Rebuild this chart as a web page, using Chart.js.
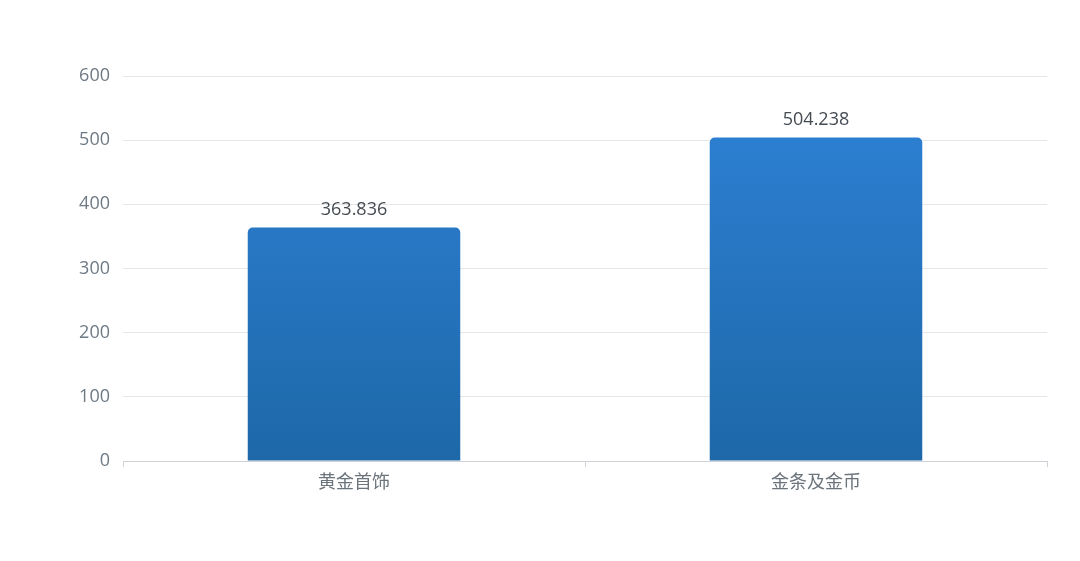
<!DOCTYPE html>
<html>
<head>
<meta charset="utf-8">
<script src="https://cdn.jsdelivr.net/npm/chart.js@4"></script>
<style>
  html, body { margin: 0; padding: 0; background: #fff; }
  #wrap { width: 1080px; height: 561px; }
</style>
</head>
<body>
<div id="wrap"><canvas id="chart" width="1080" height="561"></canvas></div>
<script>
const categories = ['黄金首饰', '金条及金币'];
const values = [363.836, 504.238];
const yTicks = [0, 100, 200, 300, 400, 500, 600];

const FONT = '"Open Sans", "Noto Sans CJK SC", sans-serif';

// draw the value above each bar
const valueLabels = {
    id: 'valueLabels',
    afterDatasetsDraw(chart) {
        const ctx = chart.ctx;
        const meta = chart.getDatasetMeta(0);
        ctx.save();
        ctx.font = '18px ' + FONT;
        ctx.fillStyle = '#444b52';
        ctx.textAlign = 'center';
        ctx.textBaseline = 'bottom';
        meta.data.forEach((bar, i) => {
            ctx.fillText(String(values[i]), bar.x, bar.y - 9);
        });
        ctx.restore();
    }
};

const ctx = document.getElementById('chart').getContext('2d');
new Chart(ctx, {
    type: 'bar',
    data: {
        labels: categories,
        datasets: [{
            data: values,
            backgroundColor: (c) => {
                const area = c.chart.chartArea;
                if (!area) return '#2878c8';
                const g = c.chart.ctx.createLinearGradient(0, area.top, 0, area.bottom);
                g.addColorStop(0, '#2e82d8');
                g.addColorStop(1, '#1e68a8');
                return g;
            },
            borderRadius: { topLeft: 5, topRight: 5 },
            borderSkipped: 'bottom',
            categoryPercentage: 1,
            barPercentage: 0.46
        }]
    },
    options: {
        responsive: false,
        animation: false,
        layout: { padding: { left: 0, right: 33, top: 76, bottom: 60 } },
        plugins: {
            legend: { display: false },
            tooltip: { enabled: false }
        },
        scales: {
            x: {
                afterFit: (s) => { s.height = 40; },
                grid: {
                    drawOnChartArea: false,
                    drawTicks: true,
                    tickLength: 6,
                    color: '#cfd3d8'
                },
                border: { color: '#cfd3d8' },
                ticks: {
                    color: '#6b737b',
                    font: { size: 18, family: FONT },
                    padding: 5
                }
            },
            y: {
                min: 0,
                max: 600,
                afterFit: (s) => { s.width = 123; },
                afterBuildTicks: (s) => { s.ticks = yTicks.map(v => ({ value: v })); },
                grid: { color: '#e6e6e6', drawTicks: false },
                border: { display: false },
                ticks: {
                    color: '#6e7a85',
                    font: { size: 18, family: FONT },
                    padding: 13
                }
            }
        }
    },
    plugins: [valueLabels]
});
</script>
</body>
</html>
